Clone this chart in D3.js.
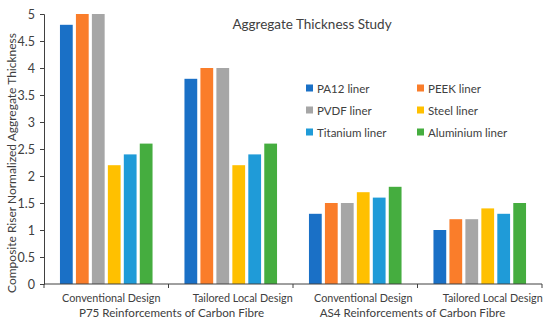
<!DOCTYPE html>
<html>
<head>
<meta charset="utf-8">
<script src="https://cdn.jsdelivr.net/npm/d3@7"></script>
<style>
	body { margin: 0; background: #fff; }
	text { font-family: Lato, "Liberation Sans", sans-serif; fill: #404040; }
</style>
</head>
<body>
<svg id="chart" width="550" height="326"></svg>
<script>
// categories and groups
var categories = ["Conventional Design", "Tailored Local Design", "Conventional Design", "Tailored Local Design"];
var groups = ["P75 Reinforcements of Carbon Fibre", "AS4 Reinforcements of Carbon Fibre"];
var seriesNames = ["PA12 liner", "PEEK liner", "PVDF liner", "Steel liner", "Titanium liner", "Aluminium liner"];
var seriesColors = ["#1a70c6", "#fa7d2a", "#a6a6a6", "#ffc000", "#1f9bd8", "#45ad3f"];

// one array per series, one value per category
var pa12 = [4.8, 3.8, 1.3, 1.0];
var peek = [5.0, 4.0, 1.5, 1.2];
var pvdf = [5.0, 4.0, 1.5, 1.2];
var steel = [2.2, 2.2, 1.7, 1.4];
var titanium = [2.4, 2.4, 1.6, 1.3];
var aluminium = [2.6, 2.6, 1.8, 1.5];

var yTicks = [0, 0.5, 1, 1.5, 2, 2.5, 3, 3.5, 4, 4.5, 5];

var seriesValues = [pa12, peek, pvdf, steel, titanium, aluminium];

// plot area (not named top/left: window.top is read only)
var plotLeft = 44, plotRight = 542, plotTop = 14, plotBottom = 284;
// the category labels sit a little right of the band centre in the original
var labelShift = [5, 12, 8, 13];
var groupShift = [3, -5];

var svg = d3.select("#chart");

var x0 = d3.scaleBand()
	.domain(d3.range(categories.length))
	.range([plotLeft, plotRight])
	.padding(0);

var x1 = d3.scaleBand()
	.domain(d3.range(seriesNames.length))
	.range([0, x0.bandwidth()])
	.paddingInner(0.2)
	.paddingOuter(1);

var y = d3.scaleLinear()
	.domain([0, 5])
	.range([plotBottom, plotTop]);

// bars, one g per category
var rows = [];
for (var c = 0; c < categories.length; c++) {
	var row = [];
	for (var s = 0; s < seriesNames.length; s++) {
		row.push({ s: s, value: seriesValues[s][c] });
	}
	rows.push(row);
}

var cat = svg.selectAll(".cat")
	.data(rows)
	.enter().append("g")
	.attr("class", "cat")
	.attr("transform", function(d, i) { return "translate(" + x0(i) + ",0)"; });

cat.selectAll("rect")
	.data(function(d) { return d; })
	.enter().append("rect")
	.attr("x", function(d) { return x1(d.s); })
	.attr("y", function(d) { return y(d.value); })
	.attr("width", x1.bandwidth())
	.attr("height", function(d) { return plotBottom - y(d.value); })
	.style("fill", function(d) { return seriesColors[d.s]; });

// y axis
var yAxis = svg.append("g")
	.attr("transform", "translate(" + plotLeft + ",0)")
	.call(d3.axisLeft(y).tickValues(yTicks).tickSize(4).tickPadding(5).tickFormat(d3.format("")));
yAxis.select(".domain").attr("stroke", "#404040");
yAxis.selectAll(".tick line").attr("stroke", "#404040");
yAxis.selectAll(".tick text")
	.style("font-size", "12.5px")
	.attr("fill", "#404040");

// x axis with separator ticks between categories
var xAxis = svg.append("g")
	.attr("transform", "translate(0," + plotBottom + ")");
xAxis.append("line")
	.attr("x1", plotLeft).attr("x2", plotRight)
	.attr("stroke", "#404040");
xAxis.selectAll(".sep")
	.data(d3.range(categories.length + 1))
	.enter().append("line")
	.attr("class", "sep")
	.attr("x1", function(d) { return plotLeft + d * x0.step(); })
	.attr("x2", function(d) { return plotLeft + d * x0.step(); })
	.attr("y1", 0).attr("y2", 4)
	.attr("stroke", "#404040");

xAxis.selectAll(".catlabel")
	.data(categories)
	.enter().append("text")
	.attr("class", "catlabel")
	.attr("x", function(d, i) { return x0(i) + x0.bandwidth() / 2 + labelShift[i]; })
	.attr("y", 18)
	.attr("text-anchor", "middle")
	.style("font-size", "10.8px")
	.text(function(d) { return d; });

xAxis.selectAll(".grouplabel")
	.data(groups)
	.enter().append("text")
	.attr("class", "grouplabel")
	.attr("x", function(d, i) { return x0(i * 2) + x0.bandwidth() + groupShift[i]; })
	.attr("y", 33)
	.attr("text-anchor", "middle")
	.style("font-size", "11.6px")
	.text(function(d) { return d; });

// y axis title
svg.append("text")
	.attr("transform", "translate(16,163) rotate(-90)")
	.attr("text-anchor", "middle")
	.style("font-size", "12px")
	.text("Composite Riser Normalized Aggregate Thickness");

// chart title
svg.append("text")
	.attr("x", 312)
	.attr("y", 29)
	.attr("text-anchor", "middle")
	.style("font-size", "13.5px")
	.text("Aggregate Thickness Study");

// legend, two columns
var legend = svg.selectAll(".legend")
	.data(seriesNames)
	.enter().append("g")
	.attr("class", "legend")
	.attr("transform", function(d, i) {
		return "translate(" + (306 + (i % 2) * 111) + "," + (88 + Math.floor(i / 2) * 22) + ")";
	});

legend.append("rect")
	.attr("x", 0).attr("y", -3.5)
	.attr("width", 7).attr("height", 7)
	.style("fill", function(d, i) { return seriesColors[i]; });

legend.append("text")
	.attr("x", 11)
	.attr("y", 4.5)
	.style("font-size", "11.5px")
	.text(function(d) { return d; });
</script>
</body>
</html>
